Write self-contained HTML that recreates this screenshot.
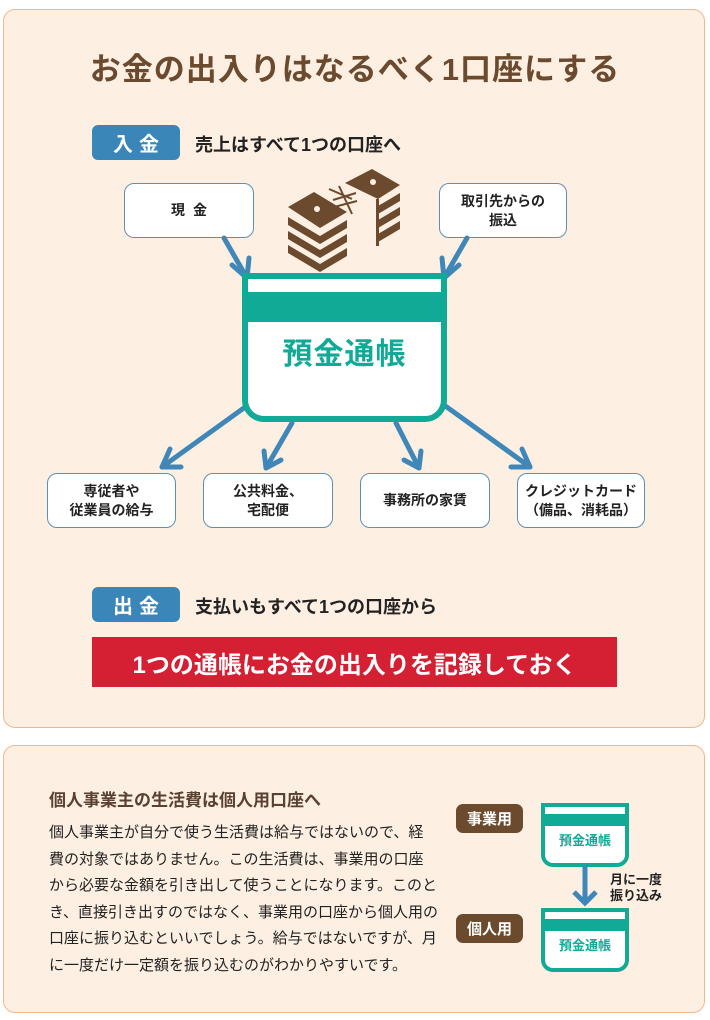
<!DOCTYPE html>
<html><head><meta charset="utf-8">
<style>
*{margin:0;padding:0;box-sizing:border-box}
body{width:710px;height:1020px;background:#fff;position:relative;font-family:"Liberation Sans","Noto Sans CJK JP",sans-serif;overflow:hidden}
.abs{position:absolute}
.panel{position:absolute;background:#fdf0e3;border:1.5px solid #efb88c;border-radius:12px}
.box{position:absolute;background:#fff;border:1.5px solid #5d8fb5;border-radius:10px;display:flex;align-items:center;justify-content:center;text-align:center;font-weight:bold;font-size:14px;line-height:19px;color:#222}
.tag{position:absolute;background:#3a86b8;color:#fff;border-radius:6px;font-weight:bold;font-size:20px;display:flex;align-items:center;justify-content:center;letter-spacing:6px;padding-left:6px}
.sub{position:absolute;font-weight:bold;font-size:18px;color:#222;white-space:nowrap}
.btag{position:absolute;background:#6b4a2e;color:#fff;border-radius:7px;font-weight:bold;font-size:15px;display:flex;align-items:center;justify-content:center}
</style></head><body>
<div class="panel" style="left:3px;top:9px;width:702px;height:719px"></div>
<div class="panel" style="left:3px;top:745px;width:702px;height:268px"></div>

<div class="abs" style="left:0;width:710px;top:44px;text-align:center;font-size:31px;font-weight:bold;color:#6b4a2e;letter-spacing:1px">お金の出入りはなるべく1口座にする</div>

<div class="tag" style="left:92px;top:125px;width:88px;height:35px">入金</div>
<div class="sub" style="left:195px;top:131px">売上はすべて1つの口座へ</div>

<div class="box" style="left:124px;top:183px;width:130px;height:55px;letter-spacing:8px;padding-left:8px">現金</div>
<div class="box" style="left:439px;top:183px;width:128px;height:55px">取引先からの<br>振込</div>

<svg class="abs" style="left:0;top:0" width="710" height="730">
<g fill="#6b4a2e">
<path d="M288 207 L314 192 L347 212 L320 228Z"/>
<path d="M288 217 L320 236 L320 244 L288 225Z M320 236 L347 220 L347 228 L320 244Z"/>
<path d="M288 231 L320 250 L320 258 L288 239Z M320 250 L347 234 L347 242 L320 258Z"/>
<path d="M288 245 L320 264 L320 272 L288 253Z M320 264 L347 248 L347 256 L320 272Z"/>
<path d="M345 183 L372 169 L400 185 L378 199Z"/>
<path d="M378 206 L400 193 L400 201 L378 214Z"/>
<path d="M378 220 L400 207 L400 215 L378 228Z"/>
<path d="M378 234 L400 221 L400 229 L378 242Z"/>
<path d="M376 199 L379 199 L379 246 L376 246Z"/>
</g>
<circle cx="317" cy="209" r="3" fill="#fdf0e3"/>
<circle cx="373" cy="182" r="3" fill="#fdf0e3"/>
<g stroke="#6b4a2e" stroke-width="2" fill="none"><path d="M329 189 L352 199 M333 200 L356 193 M339 186 L352 214 M334 207 L357 201"/></g>
<g stroke="#3f87b9" stroke-width="5" fill="none" stroke-linecap="round" stroke-linejoin="round">
<path d="M224 238 L247 278"/><path d="M232 265 L247 278 L249 258"/>
<path d="M467 238 L444 278"/><path d="M442 258 L444 278 L459 265"/>
<path d="M248 405 L162 467"/><path d="M170 449 L162 467 L181 467"/>
<path d="M292 423 L266 468"/><path d="M264 451 L266 468 L281 460"/>
<path d="M396 423 L419 468"/><path d="M404 460 L419 468 L421 451"/>
<path d="M444 405 L530 467"/><path d="M511 467 L530 467 L522 449"/>
</g>
</svg>

<div class="abs" style="left:242px;top:273px;width:205px;height:149px;border:6px solid #10aa96;border-radius:0 0 22px 22px;background:#fff">
<div class="abs" style="left:0;top:13px;width:193px;height:30px;background:#10aa96"></div>
<div class="abs" style="left:0;top:50px;width:193px;text-align:center;font-size:30px;font-weight:bold;color:#10aa96;letter-spacing:1px">預金通帳</div>
</div>

<div class="box" style="left:47px;top:473px;width:129px;height:55px">専従者や<br>従業員の給与</div>
<div class="box" style="left:203px;top:473px;width:130px;height:55px">公共料金、<br>宅配便</div>
<div class="box" style="left:360px;top:473px;width:130px;height:55px">事務所の家賃</div>
<div class="box" style="left:517px;top:473px;width:128px;height:55px">クレジットカード<br>（備品、消耗品）</div>

<div class="tag" style="left:92px;top:587px;width:88px;height:35px">出金</div>
<div class="sub" style="left:195px;top:593px">支払いもすべて1つの口座から</div>
<div class="abs" style="left:92px;top:637px;width:525px;height:50px;background:#d51f33;color:#fff;font-weight:bold;font-size:24px;display:flex;align-items:center;justify-content:center">1つの通帳にお金の出入りを記録しておく</div>

<div class="abs" style="left:49px;top:786px;font-size:17px;font-weight:bold;color:#5a4030;white-space:nowrap">個人事業主の生活費は個人用口座へ</div>
<div class="abs" style="left:49px;top:820px;width:420px;font-size:15px;line-height:26.6px;color:#222;white-space:nowrap">個人事業主が自分で使う生活費は給与ではないので、経<br>費の対象ではありません。この生活費は、事業用の口座<br>から必要な金額を引き出して使うことになります。このと<br>き、直接引き出すのではなく、事業用の口座から個人用の<br>口座に振り込むといいでしょう。給与ではないですが、月<br>に一度だけ一定額を振り込むのがわかりやすいです。</div>

<div class="btag" style="left:456px;top:804px;width:67px;height:29px">事業用</div>
<div class="btag" style="left:456px;top:914px;width:67px;height:29px">個人用</div>

<div class="abs" style="left:541px;top:803px;width:88px;height:64px;border:4px solid #10aa96;border-radius:0 0 12px 12px;background:#fff">
<div class="abs" style="left:0;top:7px;width:80px;height:12px;background:#10aa96"></div>
<div class="abs" style="left:0;top:23px;width:80px;text-align:center;font-size:13px;font-weight:bold;color:#10aa96">預金通帳</div></div>
<div class="abs" style="left:541px;top:908px;width:88px;height:64px;border:4px solid #10aa96;border-radius:0 0 12px 12px;background:#fff">
<div class="abs" style="left:0;top:7px;width:80px;height:12px;background:#10aa96"></div>
<div class="abs" style="left:0;top:23px;width:80px;text-align:center;font-size:13px;font-weight:bold;color:#10aa96">預金通帳</div></div>
<svg class="abs" style="left:560px;top:865px" width="50" height="45"><g stroke="#3f87b9" stroke-width="5" fill="none"><path d="M25 0 L25 38"/><path d="M14 27 L25 38 L36 27"/></g></svg>
<div class="abs" style="left:610px;top:872px;font-size:13px;line-height:16px;font-weight:bold;color:#222">月に一度<br>振り込み</div>
</body></html>
